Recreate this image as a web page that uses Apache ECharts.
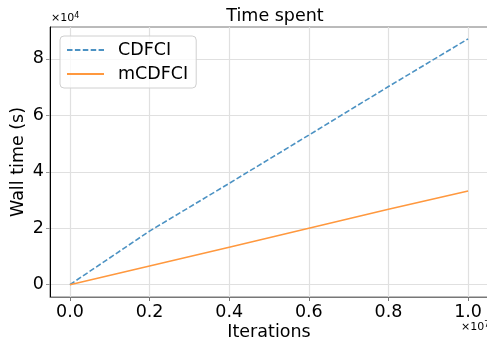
<!DOCTYPE html>
<html>
<head>
<meta charset="utf-8">
<script src="https://cdn.jsdelivr.net/npm/echarts@6/dist/echarts.min.js"></script>
<style>
html,body{margin:0;padding:0;background:#fff;}
#chart{width:487px;height:340px;}
</style>
</head>
<body>
<div id="chart"></div>
<script>
// ---- data ----
var iterations = [0, 2000000, 4000000, 6000000, 8000000, 10000000];
var cdfci = [0, 19000, 35900, 53000, 70200, 87100];
var mcdfci = [0, 6600, 13300, 20000, 26700, 33200];
var xTicks = [0, 2000000, 4000000, 6000000, 8000000, 10000000];
var yTicks = [0, 20000, 40000, 60000, 80000];
var seriesNames = ['CDFCI', 'mCDFCI'];
var titleText = 'Time spent';
var xLabel = 'Iterations';
var yLabel = 'Wall time (s)';

var FONT = 'DejaVu Sans';
var FS = 17.5;

function pairs(xs, ys) { return xs.map(function (x, i) { return [x, ys[i]]; }); }

var chart = echarts.init(document.getElementById('chart'), null, {renderer: 'canvas'});
chart.setOption({
  animation: false,
  backgroundColor: '#fff',
  title: {
    text: titleText, left: 270, top: 2, textAlign: 'center',
    textStyle: {fontFamily: FONT, fontSize: FS, fontWeight: 'normal', color: '#000'}
  },
  legend: {
    orient: 'vertical', left: 60, top: 36,
    padding: [5, 8, 5, 6], itemGap: 6, itemWidth: 37, itemHeight: 14,
    borderColor: '#d0d0d0', borderWidth: 1, borderRadius: 4,
    backgroundColor: 'rgba(255,255,255,0.8)',
    itemStyle: {opacity: 0},
    textStyle: {fontFamily: FONT, fontSize: FS, color: '#000', padding: [0, 0, 0, 9]},
    data: seriesNames
  },
  grid: {left: 50, right: -1, top: 27, bottom: 43, show: true, borderColor: '#777', borderWidth: 1,
         containLabel: false, outerBoundsMode: 'none'},
  xAxis: {
    type: 'value', min: -500000, max: 10500000,
    axisLine: {show: true, onZero: false, lineStyle: {color: '#777', width: 1}},
    axisTick: {show: true, customValues: xTicks, length: 4, lineStyle: {color: '#777'}},
    axisLabel: {
      customValues: xTicks, margin: 6,
      fontFamily: FONT, fontSize: FS, color: '#000',
      formatter: function (v) { return (v / 1e7).toFixed(1); }
    },
    splitLine: {show: true, lineStyle: {color: '#e0e0e0', width: 1.2}},
    name: xLabel, nameLocation: 'middle', nameGap: 26, nameMoveOverlap: false,
    nameTextStyle: {fontFamily: FONT, fontSize: FS, color: '#000'}
  },
  yAxis: {
    type: 'value', min: -4360, max: 91300,
    axisLine: {show: true, onZero: false, lineStyle: {color: '#000', width: 1}},
    axisTick: {show: true, customValues: yTicks, length: 4, lineStyle: {color: '#999'}},
    axisLabel: {
      customValues: yTicks, margin: 6,
      fontFamily: FONT, fontSize: FS, color: '#000',
      formatter: function (v) { return String(Math.round(v / 1e4)); }
    },
    splitLine: {show: true, lineStyle: {color: '#e0e0e0', width: 1.2}},
    name: yLabel, nameLocation: 'middle', nameGap: 23, nameMoveOverlap: false,
    nameTextStyle: {fontFamily: FONT, fontSize: FS, color: '#000'}
  },
  graphic: [
    {type: 'text', left: 51, top: 12, style: {
      text: '×10{s|4}', fontFamily: FONT, fontSize: 11, fill: '#000',
      rich: {s: {fontFamily: FONT, fontSize: 8, verticalAlign: 'top', padding: [0, 0, 5, 0]}}
    }},
    {type: 'text', left: 461, top: 321, style: {
      text: '×10{s|7}', fontFamily: FONT, fontSize: 11, fill: '#000',
      rich: {s: {fontFamily: FONT, fontSize: 8, verticalAlign: 'top', padding: [0, 0, 5, 0]}}
    }}
  ],
  series: [
    {
      name: seriesNames[0], type: 'line', data: pairs(iterations, cdfci),
      symbol: 'none', showSymbol: false,
      lineStyle: {color: '#4c92c3', width: 1.6, type: [5.5, 2.4]},
      itemStyle: {color: '#4c92c3'}
    },
    {
      name: seriesNames[1], type: 'line', data: pairs(iterations, mcdfci),
      symbol: 'none', showSymbol: false,
      lineStyle: {color: '#ff983e', width: 1.6},
      itemStyle: {color: '#ff983e'}
    }
  ]
});
</script>
</body>
</html>
